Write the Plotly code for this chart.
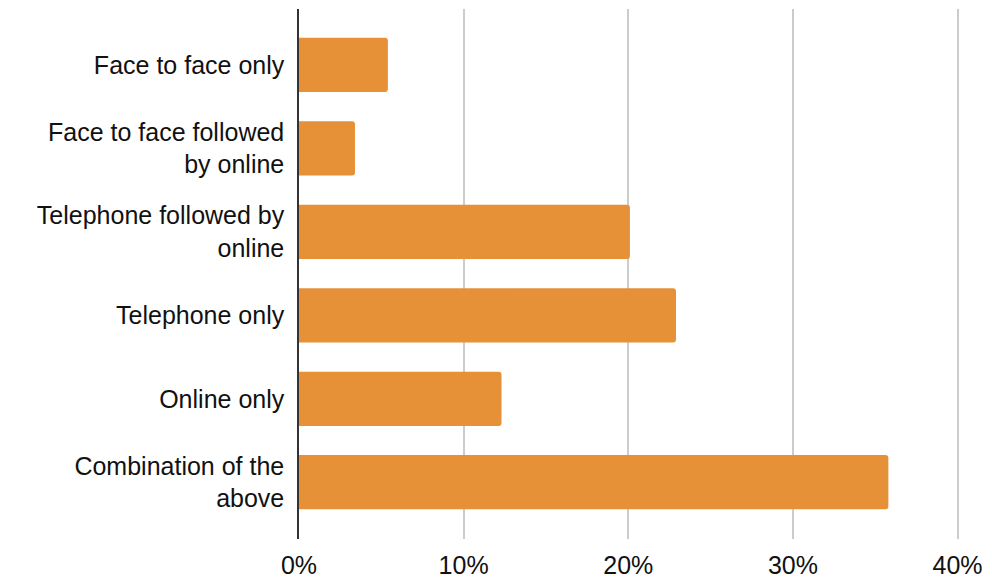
import plotly.graph_objects as go

categories = [
    "Face to face only",
    "Face to face followed<br>by online",
    "Telephone followed by<br>online",
    "Telephone only",
    "Online only",
    "Combination of the<br>above",
]
values = [5.4, 3.4, 20.1, 22.9, 12.3, 35.8]
tick_vals = [0, 10, 20, 30, 40]
tick_text = ["0%", "10%", "20%", "30%", "40%"]

fig = go.Figure(
    go.Bar(
        x=values,
        y=categories,
        orientation="h",
        marker=dict(color="#E69138", cornerradius=3, line=dict(width=0)),
        width=0.65,
        hoverinfo="x+y",
    )
)

fig.update_layout(
    width=992,
    height=578,
    margin=dict(l=299, r=32, t=9, b=39, autoexpand=False),
    paper_bgcolor="white",
    plot_bgcolor="white",
    font=dict(family="Liberation Sans, Arial, sans-serif", size=25, color="#111111"),
    showlegend=False,
    xaxis=dict(
        range=[0, 40.15],
        tickvals=tick_vals,
        ticktext=tick_text,
        showgrid=True,
        gridcolor="#CCCCCC",
        gridwidth=1.5,
        zeroline=False,
        showline=False,
        ticks="",
        ticklen=0,
        automargin=False,
        ticklabelstandoff=9,
        tickfont=dict(size=25),
    ),
    yaxis=dict(
        categoryorder="array",
        categoryarray=categories,
        range=[5.68, -0.67],
        showgrid=False,
        zeroline=False,
        showline=True,
        linecolor="#333333",
        linewidth=1.5,
        ticks="",
        ticklen=0,
        automargin=False,
        ticklabelstandoff=8,
        tickfont=dict(size=25),
    ),
)

fig.write_html(
    "out.html",
    config={"displayModeBar": False},
    post_script="document.body.style.margin='0';document.body.style.overflow='hidden';",
)
